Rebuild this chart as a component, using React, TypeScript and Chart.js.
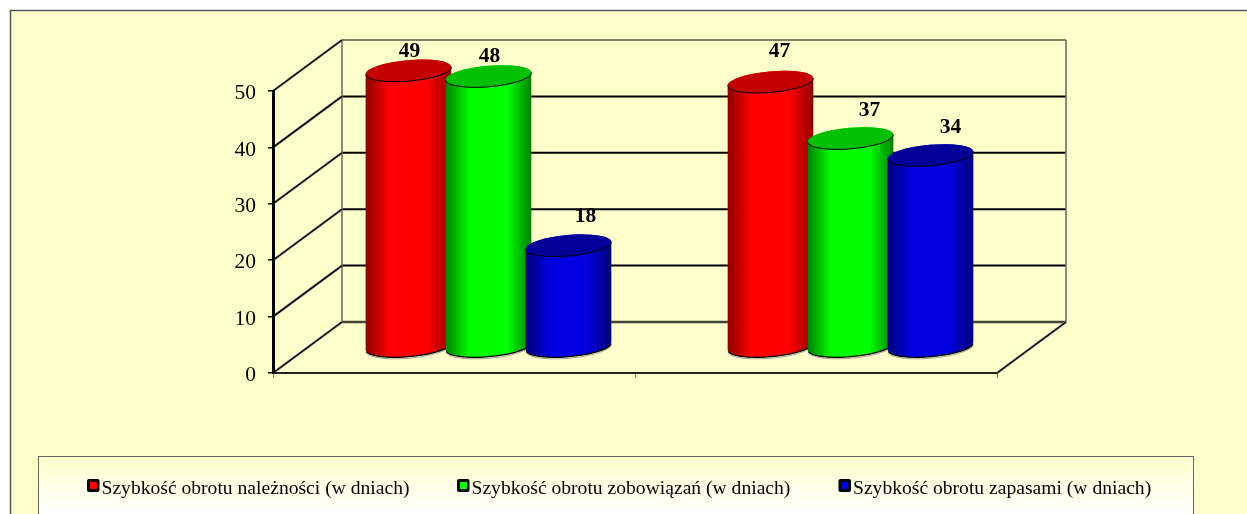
import React, { useEffect, useRef } from "react";
import { Chart, registerables } from "chart.js";

Chart.register(...registerables);

const categories = ["", ""];
const receivablesDays = [49, 47];
const payablesDays = [48, 37];
const inventoryDays = [18, 34];
const seriesNames = [
  "Szybkość obrotu należności (w dniach)",
  "Szybkość obrotu zobowiązań (w dniach)",
  "Szybkość obrotu zapasami (w dniach)",
];
const seriesColors = [
  { dark: "#8c0000", bright: "#ff0000", top: "#c40000" },
  { dark: "#007f00", bright: "#00ff00", top: "#00c000" },
  { dark: "#000078", bright: "#0000e0", top: "#000099" },
];
const FONT = '"Liberation Serif"';
const DEPTH_X = 69;
const DEPTH_Y = 51;

const cylinders3d = {
  id: "cylinders3d",
  beforeDraw(chart: any) {
    const { ctx, width, height, chartArea: a } = chart;
    ctx.save();
    ctx.fillStyle = "#ffffff";
    ctx.fillRect(0, 0, width, height);
    ctx.fillStyle = "#ffffcc";
    ctx.fillRect(10, 10, width - 10, height - 10);
    ctx.strokeStyle = "#555555";
    ctx.lineWidth = 1.5;
    ctx.beginPath();
    ctx.moveTo(10.5, height);
    ctx.lineTo(10.5, 10.5);
    ctx.lineTo(width, 10.5);
    ctx.stroke();

    const y = chart.scales.y;
    // the reference's tick numbers sit a little below their tick marks
    const items = y.getLabelItems(a);
    if (!items.shifted) {
      items.forEach((it: any) => { it.options.translation[1] += 2.5; });
      items.shifted = true;
    }
    const ticks = y.ticks.map((t: any) => t.value);
    const diag = (x0: number, y0: number, x1: number, y1: number) => {
      ctx.strokeStyle = "#9a9a90";
      ctx.lineWidth = 2.6;
      ctx.beginPath();
      ctx.moveTo(x0, y0);
      ctx.lineTo(x1, y1);
      ctx.stroke();
      ctx.strokeStyle = "#000000";
      ctx.lineWidth = 1.4;
      ctx.beginPath();
      ctx.moveTo(x0, y0);
      ctx.lineTo(x1, y1);
      ctx.stroke();
    };
    // back-wall gridlines
    ticks.forEach((v: number) => {
      const py = y.getPixelForValue(v) - DEPTH_Y;
      ctx.strokeStyle = v === 0 ? "#444438" : "#000000";
      ctx.lineWidth = v === 0 ? 2.6 : v === 50 ? 1 : 2;
      ctx.beginPath();
      ctx.moveTo(a.left + DEPTH_X, py);
      ctx.lineTo(a.right + DEPTH_X, py);
      ctx.stroke();
    });
    // wall edges
    ctx.lineWidth = 1.5;
    ctx.strokeStyle = "#666666";
    [a.left + DEPTH_X, a.right + DEPTH_X].forEach((x: number) => {
      ctx.beginPath();
      ctx.moveTo(x, a.top - DEPTH_Y);
      ctx.lineTo(x, a.bottom - DEPTH_Y);
      ctx.stroke();
    });
    // side-wall and floor diagonals
    ticks.forEach((v: number) => {
      const py = y.getPixelForValue(v);
      diag(a.left, py, a.left + DEPTH_X, py - DEPTH_Y);
    });
    diag(a.right, a.bottom, a.right + DEPTH_X, a.bottom - DEPTH_Y);
    ctx.restore();
  },
  afterDatasetsDraw(chart: any) {
    const { ctx } = chart;
    const rot = (-5 * Math.PI) / 180;
    const ry = 10.5;
    chart.data.datasets.forEach((ds: any, i: number) => {
      const c = seriesColors[i];
      chart.getDatasetMeta(i).data.forEach((bar: any) => {
        const rx = bar.width / 2 + 3;
        const cx = bar.x + DEPTH_X / 2;
        const bottom = bar.base - DEPTH_Y / 2 - 0.5;
        const top = bar.y - DEPTH_Y / 2 - 0.5;
        const g = ctx.createLinearGradient(cx - rx, 0, cx + rx, 0);
        g.addColorStop(0, c.dark);
        g.addColorStop(0.28, c.bright);
        g.addColorStop(0.72, c.bright);
        g.addColorStop(1, c.dark);
        ctx.save();
        // bottom shadow edge
        ctx.strokeStyle = "#a8a890";
        ctx.lineWidth = 1;
        ctx.beginPath();
        ctx.ellipse(cx, bottom + 1.5, rx, ry, rot, 0.1, Math.PI - 0.1);
        ctx.stroke();
        // body
        ctx.beginPath();
        ctx.ellipse(cx, bottom, rx, ry, rot, 0, Math.PI);
        ctx.ellipse(cx, top, rx, ry, rot, Math.PI, 0, false);
        ctx.closePath();
        ctx.fillStyle = g;
        ctx.fill();
        ctx.strokeStyle = "#000000";
        ctx.lineWidth = 1.2;
        ctx.beginPath();
        ctx.ellipse(cx, bottom, rx, ry, rot, 0.15, Math.PI - 0.15);
        ctx.stroke();
        // top cap
        ctx.beginPath();
        ctx.ellipse(cx, top, rx, ry, rot, 0, Math.PI * 2);
        ctx.fillStyle = c.top;
        ctx.fill();
        ctx.lineWidth = 1;
        ctx.beginPath();
        ctx.ellipse(cx, top, rx, ry, rot, 0, Math.PI);
        ctx.stroke();
        ctx.restore();
      });
    });

    // value labels, placed where the reference's were hand-moved
    const labelShift = [
      [[1, -19], [9, -30]],
      [[1, -19], [19, -27]],
      [[17, -29], [20, -27]],
    ];
    ctx.save();
    ctx.font = `bold 21.5px ${FONT}`;
    ctx.fillStyle = "#000000";
    ctx.textAlign = "center";
    ctx.textBaseline = "middle";
    chart.data.datasets.forEach((ds: any, i: number) => {
      chart.getDatasetMeta(i).data.forEach((bar: any, j: number) => {
        const [dx, dy] = labelShift[i][j];
        ctx.fillText(String(ds.data[j]), bar.x + DEPTH_X / 2 + dx, bar.y - DEPTH_Y / 2 - 1 + dy);
      });
    });
    ctx.restore();

    // legend
    const { height } = chart;
    const boxTop = 456.5;
    const grad = ctx.createLinearGradient(0, boxTop, 0, boxTop + 58);
    grad.addColorStop(0, "#ffffcc");
    grad.addColorStop(1, "#ffffff");
    ctx.save();
    ctx.fillStyle = grad;
    ctx.fillRect(38.5, boxTop, 1155, height - boxTop + 2);
    ctx.strokeStyle = "#666666";
    ctx.lineWidth = 1;
    ctx.strokeRect(38.5, boxTop, 1155, height - boxTop + 10);
    const starts = [87, 457, 838.5];
    ctx.font = `19.6px ${FONT}`;
    ctx.textAlign = "left";
    ctx.textBaseline = "middle";
    seriesNames.forEach((name, i) => {
      const x = starts[i];
      ctx.fillStyle = "#000000";
      ctx.beginPath();
      ctx.roundRect(x, 479, 12.5, 13, 2);
      ctx.fill();
      ctx.fillStyle = seriesColors[i].bright;
      ctx.fillRect(x + 3, 482, 7, 7);
      ctx.fillStyle = "#000000";
      ctx.fillText(name, x + 14.5, 488.5);
    });
    ctx.restore();
  },
};

export default function App() {
  const ref = useRef<HTMLCanvasElement>(null);
  useEffect(() => {
    const chart = new Chart(ref.current!, {
      type: "bar",
      data: {
        labels: categories,
        datasets: [
          { label: seriesNames[0], data: receivablesDays, backgroundColor: "transparent" },
          { label: seriesNames[1], data: payablesDays, backgroundColor: "transparent" },
          { label: seriesNames[2], data: inventoryDays, backgroundColor: "transparent" },
        ],
      },
      options: {
        responsive: false,
        animation: false,
        layout: { padding: { top: 91, right: 250, left: 0, bottom: 0 } },
        datasets: { bar: { categoryPercentage: 240 / 362, barPercentage: 1 } },
        plugins: { legend: { display: false }, tooltip: { enabled: false }, title: { display: false } },
        scales: {
          x: {
            afterFit: (s: any) => { s.height = 141; },
            grid: { drawOnChartArea: false, tickLength: 5, color: "#808070", offset: true },
            border: { color: "#222218", width: 2 },
            ticks: { display: true, font: { family: FONT, size: 1 } },
          },
          y: {
            min: 0,
            max: 50,
            afterFit: (s: any) => { s.width = 273; },
            grid: { drawOnChartArea: false, tickLength: 5, color: "#000000", lineWidth: 1.5 },
            border: { color: "#000000", width: 3 },
            ticks: { stepSize: 10, padding: 12, color: "#000000", font: { family: FONT, size: 21.5 } },
          },
        },
      } as any,
      plugins: [cylinders3d as any],
    });
    return () => chart.destroy();
  }, []);
  return <canvas ref={ref} width={1247} height={514} style={{ position: "absolute", left: 0, top: 0 }} />;
}
